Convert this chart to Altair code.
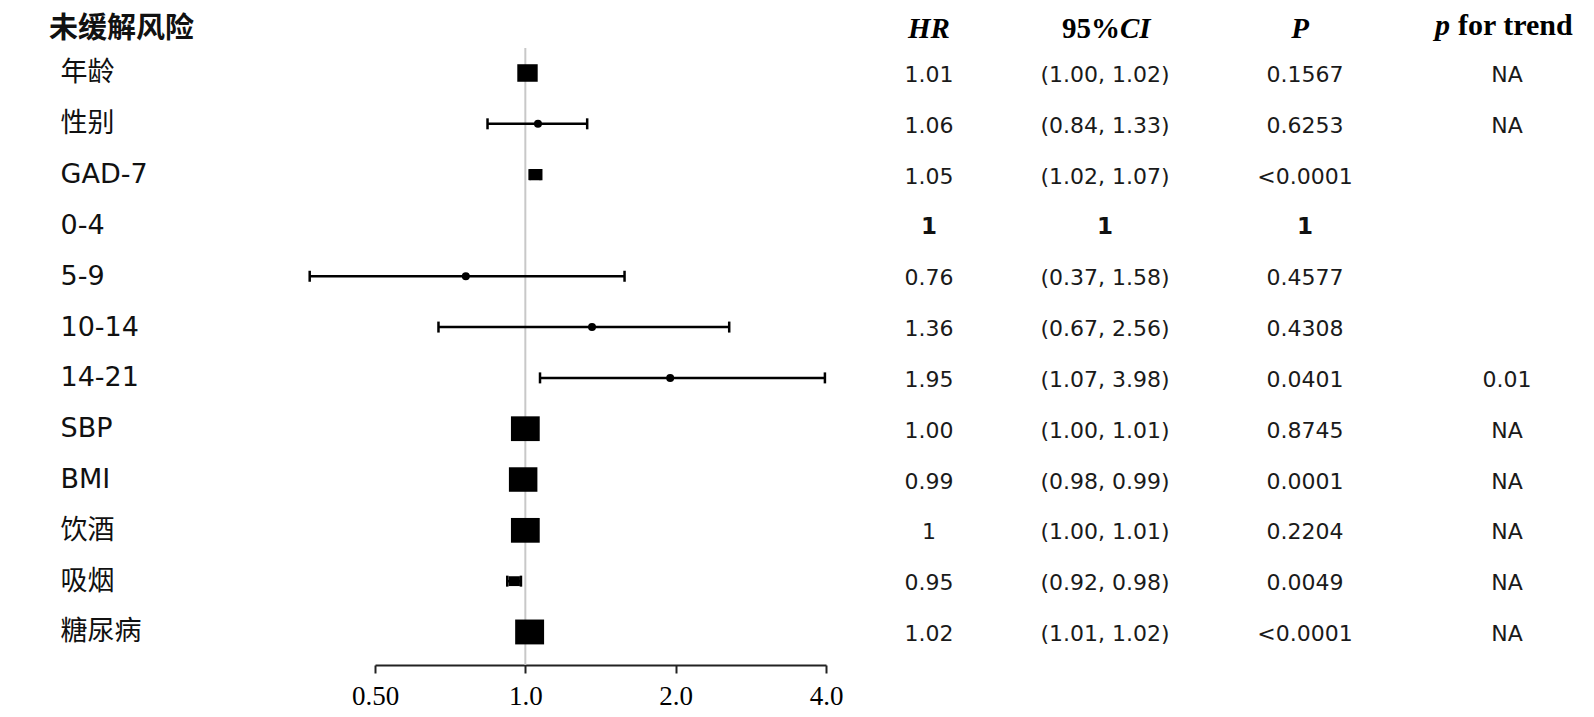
import altair as alt
import numpy as np
import pandas as pd

# ---------------- data ----------------
labels = ["年龄", "性别", "GAD-7", "0-4", "5-9", "10-14", "14-21",
          "SBP", "BMI", "饮酒", "吸烟", "糖尿病"]
hr = [1.01, 1.06, 1.05, 1.0, 0.76, 1.36, 1.95, 1.00, 0.99, 1.0, 0.95, 1.02]
lo = [1.00, 0.84, 1.02, None, 0.37, 0.67, 1.07, 1.00, 0.98, 1.00, 0.92, 1.01]
hi = [1.02, 1.33, 1.07, None, 1.58, 2.56, 3.98, 1.01, 0.99, 1.01, 0.98, 1.02]
hr_txt = ["1.01", "1.06", "1.05", "1", "0.76", "1.36", "1.95",
          "1.00", "0.99", "1", "0.95", "1.02"]
ci_txt = ["(1.00, 1.02)", "(0.84, 1.33)", "(1.02, 1.07)", "1", "(0.37, 1.58)",
          "(0.67, 2.56)", "(1.07, 3.98)", "(1.00, 1.01)", "(0.98, 0.99)",
          "(1.00, 1.01)", "(0.92, 0.98)", "(1.01, 1.02)"]
p_txt = ["0.1567", "0.6253", "<0.0001", "1", "0.4577", "0.4308", "0.0401",
         "0.8745", "0.0001", "0.2204", "0.0049", "<0.0001"]
trend_txt = ["NA", "NA", "", "", "", "", "0.01", "NA", "NA", "NA", "NA", "NA"]

x_ticks = [0.5, 1, 2, 4]
x_tick_labels = ["0.50", "1.0", "2.0", "4.0"]
title_txt = "未缓解风险"

rows = list(range(len(labels)))
df = pd.DataFrame({
    "row": rows, "label": labels, "hr": hr,
    "lo": pd.array(lo, dtype="Float64").astype(float),
    "hi": pd.array(hi, dtype="Float64").astype(float),
    "hr_txt": hr_txt, "ci_txt": ci_txt, "p_txt": p_txt, "trend_txt": trend_txt,
})
df["ref"] = df["lo"].isna()
df["prec"] = 3.92 / np.log(df["hi"] / df["lo"])
df["wide"] = (df["hi"] / df["lo"]) > 1.3

# ---------------- scales / axes ----------------
H = 654
xscale = alt.Scale(type="log", domain=[0.5, 4], nice=False)
yscale = alt.Scale(domain=[-1.22, 11.65], reverse=True, nice=False, zero=False)

lab_arr = "[" + ",".join("'" + l + "'" for l in labels) + "]"
xlab_arr = "[" + ",".join("'" + l + "'" for l in x_tick_labels) + "]"
xval_arr = "[" + ",".join(str(v) for v in x_ticks) + "]"

xaxis = alt.Axis(values=x_ticks,
                 labelExpr=f"{xlab_arr}[indexof({xval_arr}, datum.value)]",
                 labelFont="Liberation Serif", labelFontSize=27, labelColor="black",
                 tickSize=8, tickWidth=2, tickColor="#222", domainColor="#222",
                 domainWidth=2, labelPadding=10, grid=False, title=None,
                 labelFlush=False, labelOverlap=False)
yaxis = alt.Axis(values=rows, labelExpr=f"{lab_arr}[datum.value]",
                 labelAlign="left", labelBaseline="middle", labelPadding=315,
                 ticks=False, tickSize=0, domain=False, grid=False,
                 labelFont="DejaVu Sans, Noto Sans CJK SC", labelFontSize=27,
                 labelColor="#111", labelOverlap=False, title=None)

Yrow = alt.Y("row:Q", scale=yscale, axis=yaxis)

BOX = "M-1,-0.86H1V0.86H-1Z"

ref_line = alt.Chart(pd.DataFrame({"v": [1.0]})).mark_rule(
    color="#c8c8c8", strokeWidth=2).encode(
    x=alt.X("v:Q", scale=xscale, axis=xaxis),
    y=alt.YDatum(-0.49, scale=yscale, axis=yaxis),
    y2=alt.datum(11.65))

ci = alt.Chart(df).transform_filter("!datum.ref").mark_rule(
    color="black", strokeWidth=2.5).encode(
    x=alt.X("lo:Q", scale=xscale, axis=xaxis), x2="hi:Q", y=Yrow)

caps = alt.Chart(df).transform_filter("!datum.ref").transform_fold(
    ["lo", "hi"], as_=["end", "val"]).mark_tick(
    orient="vertical", size=11, thickness=2.5, color="black", opacity=1).encode(
    x=alt.X("val:Q", scale=xscale, axis=xaxis), y=Yrow)

boxes = alt.Chart(df).transform_filter("!datum.ref && !datum.wide").mark_point(
    shape=BOX, filled=True, color="black", opacity=1, strokeWidth=0).encode(
    x=alt.X("hr:Q", scale=xscale, axis=xaxis), y=Yrow,
    size=alt.Size("prec:Q", scale=alt.Scale(domain=[0, 400], range=[0, 841]),
                  legend=None))

dots = alt.Chart(df).transform_filter("datum.wide").mark_point(
    shape="circle", filled=True, color="black", opacity=1, size=64,
    strokeWidth=0).encode(
    x=alt.X("hr:Q", scale=xscale, axis=xaxis), y=Yrow)

title_mark = alt.Chart(pd.DataFrame({"t": [title_txt]})).mark_text(
    font="DejaVu Sans, Noto Sans CJK SC", fontSize=29, fontWeight="bold",
    color="#111", align="left", baseline="middle", x=-326).encode(
    y=alt.YDatum(-0.86, scale=yscale, axis=yaxis), text="t:N")

forest = alt.layer(ref_line, ci, caps, boxes, dots, title_mark).properties(
    width=451, height=H)

# ---------------- table panels ----------------
Ytab = alt.Y("row:Q", scale=yscale, axis=None)
NUMFONT = "DejaVu Sans"


def header(txt, v, align="center", dx=0, italic=True, size=29):
    kw = dict(font="Liberation Serif", fontSize=size, fontWeight="bold",
              baseline="alphabetic", align=align, dx=dx, color="black")
    if italic:
        kw["fontStyle"] = "italic"
    return alt.Chart(pd.DataFrame({"t": [txt]})).mark_text(**kw).encode(
        y=alt.YDatum(v, scale=yscale, axis=None), text="t:N")


def column(field, width, headers):
    vals = alt.Chart(df).transform_filter("!datum.ref").mark_text(
        font=NUMFONT, fontSize=22, color="#1a1a1a", baseline="middle", dy=2).encode(
        y=Ytab, text=f"{field}:N")
    refrow = alt.Chart(df).transform_filter("datum.ref").mark_text(
        font=NUMFONT, fontSize=23, fontWeight="bold", color="#111",
        baseline="middle", dy=2).encode(y=Ytab, text=f"{field}:N")
    return alt.layer(vals, refrow, *headers).properties(width=width, height=H)


HV = -0.689   # header baseline row position
TV = -0.748
c1 = column("hr_txt", 206, [header("HR", HV)])
c2 = column("ci_txt", 146, [header("95%", HV, align="right", dx=15, italic=False),
                            header("CI", HV, align="left", dx=15)])
c3 = column("p_txt", 254, [header("P", HV, dx=-5)])
c4 = column("trend_txt", 150, [header("p", TV, align="right", dx=-57, size=30),
                               header("for trend", TV, align="left", dx=-49,
                                      italic=False, size=30)])

chart = alt.hconcat(forest, c1, c2, c3, c4, spacing=0, bounds="flush").properties(
    padding={"left": 41, "top": 2, "right": 0, "bottom": 0},
    background="white",
).configure_view(stroke=None)

chart.save("out.html", embed_options={"renderer": "svg", "actions": False})
